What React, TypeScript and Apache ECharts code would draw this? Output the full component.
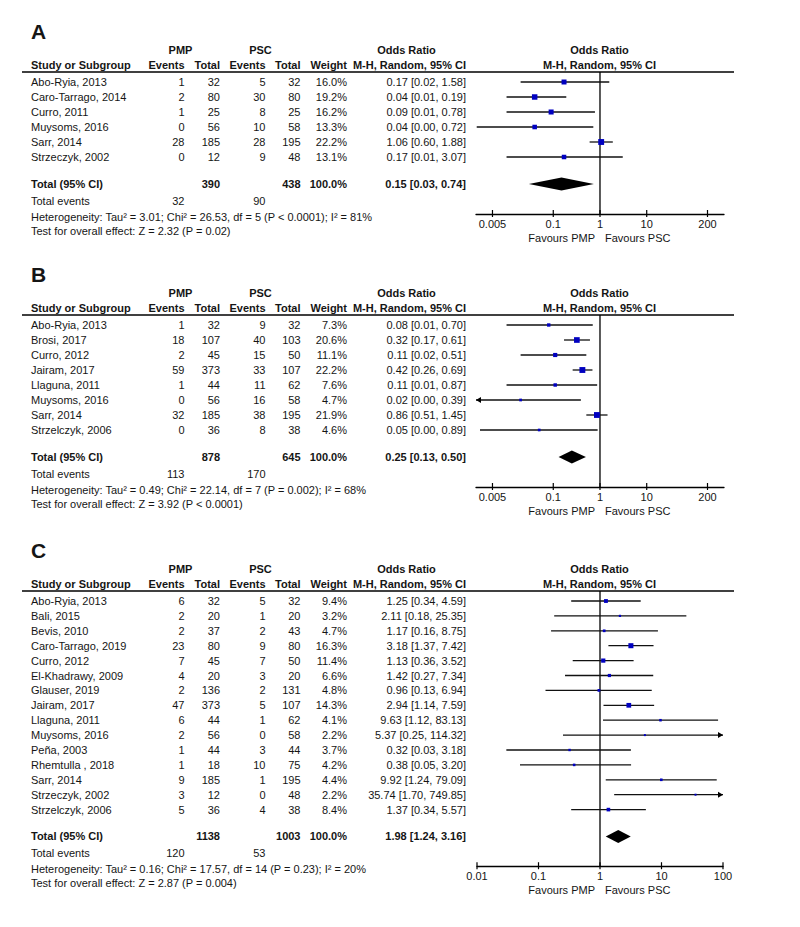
import React, { useEffect, useRef } from 'react';
import * as echarts from 'echarts';

const FONT = '"Liberation Sans", Arial, Helvetica, sans-serif';

// ---------- Panel A data ----------
const studiesA = ['Abo-Ryia, 2013', 'Caro-Tarrago, 2014', 'Curro, 2011', 'Muysoms, 2016', 'Sarr, 2014', 'Strzeczyk, 2002'];
const pmpEventsA = [1, 2, 1, 0, 28, 0];
const pmpTotalA = [32, 80, 25, 56, 185, 12];
const pscEventsA = [5, 30, 8, 10, 28, 9];
const pscTotalA = [32, 80, 25, 58, 195, 48];
const weightA = [16.0, 19.2, 16.2, 13.3, 22.2, 13.1];
const orA = [0.17, 0.04, 0.09, 0.04, 1.06, 0.17];
const loA = [0.02, 0.01, 0.01, 0.0023, 0.60, 0.01];
const hiA = [1.58, 0.19, 0.78, 0.72, 1.88, 3.07];
const totalA = [0.15, 0.03, 0.74];
const totalWeightA = 100.0;
const hetA = 'Heterogeneity: Tau² = 3.01; Chi² = 26.53, df = 5 (P < 0.0001); I² = 81%';
const testA = 'Test for overall effect: Z = 2.32 (P = 0.02)';
const ticksA = [0.005, 0.1, 1, 10, 200];

// ---------- Panel B data ----------
const studiesB = ['Abo-Ryia, 2013', 'Brosi, 2017', 'Curro, 2012', 'Jairam, 2017', 'Llaguna, 2011', 'Muysoms, 2016', 'Sarr, 2014', 'Strzelczyk, 2006'];
const pmpEventsB = [1, 18, 2, 59, 1, 0, 32, 0];
const pmpTotalB = [32, 107, 45, 373, 44, 56, 185, 36];
const pscEventsB = [9, 40, 15, 33, 11, 16, 38, 8];
const pscTotalB = [32, 103, 50, 107, 62, 58, 195, 38];
const weightB = [7.3, 20.6, 11.1, 22.2, 7.6, 4.7, 21.9, 4.6];
const orB = [0.08, 0.32, 0.11, 0.42, 0.11, 0.02, 0.86, 0.05];
const loB = [0.01, 0.17, 0.02, 0.26, 0.01, 0.0013, 0.51, 0.0027];
const hiB = [0.70, 0.61, 0.51, 0.69, 0.87, 0.39, 1.45, 0.89];
const totalB = [0.25, 0.13, 0.50];
const totalWeightB = 100.0;
const hetB = 'Heterogeneity: Tau² = 0.49; Chi² = 22.14, df = 7 (P = 0.002); I² = 68%';
const testB = 'Test for overall effect: Z = 3.92 (P < 0.0001)';
const ticksB = [0.005, 0.1, 1, 10, 200];

// ---------- Panel C data ----------
const studiesC = ['Abo-Ryia, 2013', 'Bali, 2015', 'Bevis, 2010', 'Caro-Tarrago, 2019', 'Curro, 2012', 'El-Khadrawy, 2009', 'Glauser, 2019', 'Jairam, 2017', 'Llaguna, 2011', 'Muysoms, 2016', 'Peña, 2003', 'Rhemtulla , 2018', 'Sarr, 2014', 'Strzeczyk, 2002', 'Strzelczyk, 2006'];
const pmpEventsC = [6, 2, 2, 23, 7, 4, 2, 47, 6, 2, 1, 1, 9, 3, 5];
const pmpTotalC = [32, 20, 37, 80, 45, 20, 136, 373, 44, 56, 44, 18, 185, 12, 36];
const pscEventsC = [5, 1, 2, 9, 7, 3, 2, 5, 1, 0, 3, 10, 1, 0, 4];
const pscTotalC = [32, 20, 43, 80, 50, 20, 131, 107, 62, 58, 44, 75, 195, 48, 38];
const weightC = [9.4, 3.2, 4.7, 16.3, 11.4, 6.6, 4.8, 14.3, 4.1, 2.2, 3.7, 4.2, 4.4, 2.2, 8.4];
const orC = [1.25, 2.11, 1.17, 3.18, 1.13, 1.42, 0.96, 2.94, 9.63, 5.37, 0.32, 0.38, 9.92, 35.74, 1.37];
const loC = [0.34, 0.18, 0.16, 1.37, 0.36, 0.27, 0.13, 1.14, 1.12, 0.25, 0.03, 0.05, 1.24, 1.70, 0.34];
const hiC = [4.59, 25.35, 8.75, 7.42, 3.52, 7.34, 6.94, 7.59, 83.13, 114.32, 3.18, 3.20, 79.09, 749.85, 5.57];
const totalC = [1.98, 1.24, 3.16];
const totalWeightC = 100.0;
const hetC = 'Heterogeneity: Tau² = 0.16; Chi² = 17.57, df = 14 (P = 0.23); I² = 20%';
const testC = 'Test for overall effect: Z = 2.87 (P = 0.004)';
const ticksC = [0.01, 0.1, 1, 10, 100];

const panels = [
  { label: 'A', studies: studiesA, pmpE: pmpEventsA, pmpT: pmpTotalA, pscE: pscEventsA, pscT: pscTotalA, w: weightA, or: orA, lo: loA, hi: hiA, total: totalA, totalW: totalWeightA, het: hetA, test: testA, ticks: ticksA },
  { label: 'B', studies: studiesB, pmpE: pmpEventsB, pmpT: pmpTotalB, pscE: pscEventsB, pscT: pscTotalB, w: weightB, or: orB, lo: loB, hi: hiB, total: totalB, totalW: totalWeightB, het: hetB, test: testB, ticks: ticksB },
  { label: 'C', studies: studiesC, pmpE: pmpEventsC, pmpT: pmpTotalC, pscE: pscEventsC, pscT: pscTotalC, w: weightC, or: orC, lo: loC, hi: hiC, total: totalC, totalW: totalWeightC, het: hetC, test: testC, ticks: ticksC },
];

// layout (positions only)
const layouts = [
  { rowY0: 82, rowH: 15, left: 476, width: 248, xMin: 0.00222, xMax: 451 },
  { rowY0: 325, rowH: 15, left: 476, width: 248, xMin: 0.00222, xMax: 451 },
  { rowY0: 601, rowH: 14.9, left: 477, width: 246, xMin: 0.01, xMax: 100 },
];

const COL = {
  study: 31, ev1: 184.5, tot1: 220, ev2: 265.5, tot2: 300.5, weight: 347, or: 466,
  pmpHead: 180.5, pscHead: 260.5, orHead: 406.5, plotHead: 599.5,
  lineL: 22, lineR: 734, favL: 595, favR: 605,
};

const TXT = '#151515';
const BLUE = '#0000c0';

const txt = (text: string, x: number, y: number, align: string, bold = false, size = 11) => ({
  type: 'text',
  style: {
    text, x, y, fill: TXT, fontSize: size, fontFamily: FONT,
    fontWeight: bold ? 'bold' : 'normal', align, verticalAlign: 'middle',
  },
});

const sum = (a: number[]) => a.reduce((s, v) => s + v, 0);
const fmtOR = (o: number, l: number, h: number) => `${o.toFixed(2)} [${l.toFixed(2)}, ${h.toFixed(2)}]`;

function buildOption() {
  const grid: any[] = [];
  const xAxis: any[] = [];
  const yAxis: any[] = [];
  const series: any[] = [];

  panels.forEach((p, i) => {
    const L = layouts[i];
    const n = p.studies.length;
    const yMin = -10 / L.rowH;
    const yMax = n + 2.8;
    const totRow = n + 0.8;
    grid.push({ left: L.left, width: L.width, top: L.rowY0 - 10, height: 10 + yMax * L.rowH, containLabel: false, outerBoundsMode: 'none' });
    xAxis.push({
      gridIndex: i, type: 'log', logBase: 10, min: L.xMin, max: L.xMax,
      axisLine: { show: true, onZero: false, lineStyle: { color: '#000', width: 1.3 } },
      axisTick: { show: false }, axisLabel: { show: false }, splitLine: { show: false },
    });
    yAxis.push({ gridIndex: i, type: 'value', inverse: true, min: yMin, max: yMax, show: false, splitLine: { show: false } });

    const base = { type: 'custom', coordinateSystem: 'cartesian2d', xAxisIndex: i, yAxisIndex: i, silent: true, clip: false, animation: false };

    // header
    series.push({
      ...base,
      data: [[1, 0]],
      renderItem: (params: any, api: any) => {
        const y0 = api.coord([1, 0])[1];
        return {
          type: 'group',
          children: [
            txt(p.label, COL.study, y0 - 51, 'left', true, 21),
            txt('PMP', COL.pmpHead, y0 - 32, 'center', true),
            txt('PSC', COL.pscHead, y0 - 32, 'center', true),
            txt('Odds Ratio', COL.orHead, y0 - 32, 'center', true),
            txt('Odds Ratio', COL.plotHead, y0 - 32, 'center', true),
            txt('Study or Subgroup', COL.study, y0 - 17, 'left', true),
            txt('Events', COL.ev1, y0 - 17, 'right', true),
            txt('Total', COL.tot1, y0 - 17, 'right', true),
            txt('Events', COL.ev2, y0 - 17, 'right', true),
            txt('Total', COL.tot2, y0 - 17, 'right', true),
            txt('Weight', COL.weight, y0 - 17, 'right', true),
            txt('M-H, Random, 95% CI', COL.or, y0 - 17, 'right', true),
            txt('M-H, Random, 95% CI', COL.plotHead, y0 - 17, 'center', true),
            { type: 'line', shape: { x1: COL.lineL, y1: y0 - 10, x2: COL.lineR, y2: y0 - 10 }, style: { stroke: '#000', lineWidth: 1.5 } },
          ],
        };
      },
    });

    // table rows
    series.push({
      ...base,
      data: p.studies.map((_, k) => [1, k]),
      renderItem: (params: any, api: any) => {
        const k = params.dataIndex;
        const y = api.coord([1, api.value(1)])[1];
        return {
          type: 'group',
          children: [
            txt(p.studies[k], COL.study, y, 'left'),
            txt(String(p.pmpE[k]), COL.ev1, y, 'right'),
            txt(String(p.pmpT[k]), COL.tot1, y, 'right'),
            txt(String(p.pscE[k]), COL.ev2, y, 'right'),
            txt(String(p.pscT[k]), COL.tot2, y, 'right'),
            txt(p.w[k].toFixed(1) + '%', COL.weight, y, 'right'),
            txt(fmtOR(p.or[k], p.lo[k], p.hi[k]), COL.or, y, 'right'),
          ],
        };
      },
    });

    // footer
    series.push({
      ...base,
      data: [[1, totRow]],
      renderItem: (params: any, api: any) => {
        const yT = api.coord([1, totRow])[1];
        const yA = api.coord([1, yMax])[1];
        return {
          type: 'group',
          children: [
            txt('Total (95% CI)', COL.study, yT, 'left', true),
            txt(String(sum(p.pmpT)), COL.tot1, yT, 'right', true),
            txt(String(sum(p.pscT)), COL.tot2, yT, 'right', true),
            txt(p.totalW.toFixed(1) + '%', COL.weight, yT, 'right', true),
            txt(fmtOR(p.total[0], p.total[1], p.total[2]), COL.or, yT, 'right', true),
            txt('Total events', COL.study, yT + 17, 'left'),
            txt(String(sum(p.pmpE)), COL.ev1, yT + 17, 'right'),
            txt(String(sum(p.pscE)), COL.ev2, yT + 17, 'right'),
            txt(p.het, COL.study, yT + 32.5, 'left'),
            txt(p.test, COL.study, yT + 46.5, 'left'),
            txt('Favours PMP', COL.favL, yA + 23.5, 'right'),
            txt('Favours PSC', COL.favR, yA + 23.5, 'left'),
          ],
        };
      },
    });

    // ticks
    series.push({
      ...base,
      data: p.ticks.map((v) => [v, yMax]),
      renderItem: (params: any, api: any) => {
        const v = p.ticks[params.dataIndex];
        const pt = api.coord([v, yMax]);
        return {
          type: 'group',
          children: [
            { type: 'line', shape: { x1: pt[0], y1: pt[1] - 4, x2: pt[0], y2: pt[1] + 3 }, style: { stroke: '#000', lineWidth: 1.2 } },
            txt(String(v), pt[0], pt[1] + 10, 'center'),
          ],
        };
      },
    });

    // line of no effect
    series.push({
      ...base,
      data: [[1, yMin]],
      renderItem: (params: any, api: any) => {
        const a = api.coord([1, yMin]);
        const b = api.coord([1, yMax]);
        return { type: 'line', shape: { x1: a[0], y1: a[1], x2: b[0], y2: b[1] }, style: { stroke: '#000', lineWidth: 1.3 } };
      },
    });

    // study CIs and squares
    series.push({
      ...base,
      data: p.or.map((v, k) => [v, k, p.lo[k], p.hi[k], p.w[k]]),
      renderItem: (params: any, api: any) => {
        const k = params.dataIndex;
        const cs = params.coordSys;
        const left = cs.x;
        const right = cs.x + cs.width;
        const c = api.coord([p.or[k], k]);
        const y = c[1];
        let xl = api.coord([p.lo[k], k])[0];
        let xr = api.coord([p.hi[k], k])[0];
        const children: any[] = [];
        let arrowL = false;
        let arrowR = false;
        if (xl < left) { xl = left; arrowL = true; }
        if (xr > right) { xr = right; arrowR = true; }
        children.push({ type: 'line', shape: { x1: xl, y1: y, x2: xr, y2: y }, style: { stroke: '#111', lineWidth: 1.3 } });
        if (arrowL) children.push({ type: 'polygon', shape: { points: [[xl, y], [xl + 5, y - 3], [xl + 5, y + 3]] }, style: { fill: '#000' } });
        if (arrowR) children.push({ type: 'polygon', shape: { points: [[xr, y], [xr - 5, y - 3], [xr - 5, y + 3]] }, style: { fill: '#000' } });
        const s = Math.max(2, 1.25 * Math.sqrt(p.w[k]));
        children.push({ type: 'rect', shape: { x: c[0] - s / 2, y: y - s / 2, width: s, height: s }, style: { fill: BLUE } });
        return { type: 'group', children };
      },
    });

    // pooled diamond
    series.push({
      ...base,
      data: [[p.total[0], totRow, p.total[1], p.total[2]]],
      renderItem: (params: any, api: any) => {
        const c = api.coord([p.total[0], totRow]);
        const xl = api.coord([p.total[1], totRow])[0];
        const xr = api.coord([p.total[2], totRow])[0];
        const y = c[1];
        return {
          type: 'polygon',
          shape: { points: [[xl, y], [c[0], y - 6.5], [xr, y], [c[0], y + 6.5]] },
          style: { fill: '#000' },
        };
      },
    });
  });

  return { animation: false, backgroundColor: '#fff', grid, xAxis, yAxis, series };
}

export default function App() {
  const ref = useRef<HTMLDivElement>(null);
  useEffect(() => {
    if (!ref.current) return;
    const chart = echarts.init(ref.current, null, { renderer: 'svg' });
    chart.setOption(buildOption() as any);
    return () => chart.dispose();
  }, []);
  return <div ref={ref} style={{ position: 'absolute', left: 0, top: 0, width: 800, height: 927, background: '#fff' }} />;
}
